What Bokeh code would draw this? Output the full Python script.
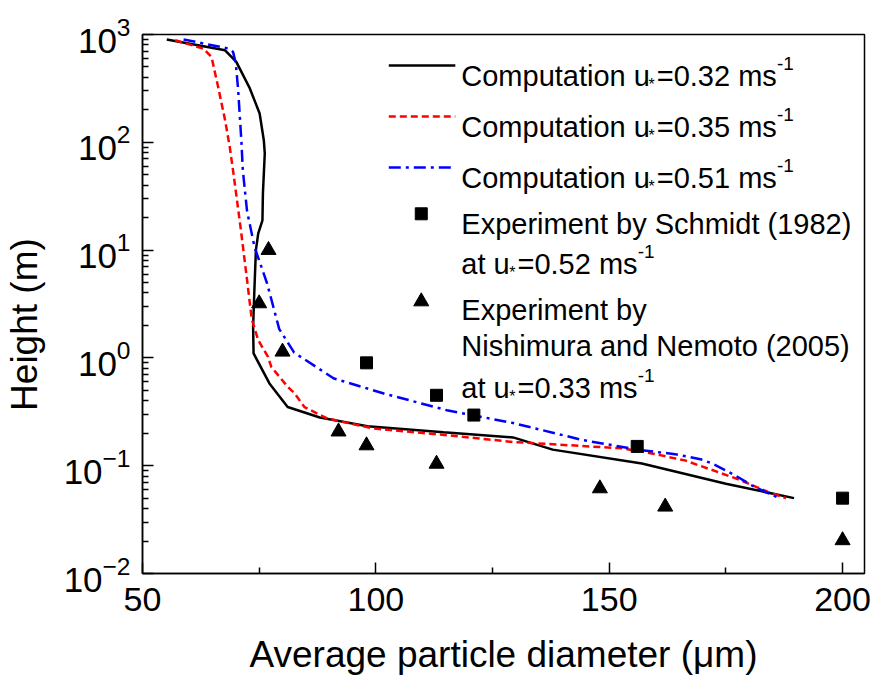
from bokeh.plotting import figure
from bokeh.models import Range1d, LinearScale, Label, FixedTicker, LogTickFormatter
from bokeh.embed import file_html
from bokeh.resources import INLINE

# ---------------- data ----------------
# Computation u*=0.32 m/s (black solid)
x_c032 = [55.2, 67.7, 70.1, 73.0, 75.1, 76.0, 76.2, 75.8, 75.7, 74.8, 74.3, 74.0, 73.7, 73.8,
          77.2, 81.1, 88.0, 98.2, 114.5, 129.4, 137.9, 157.0, 175.0, 189.6]
y_c032 = [900, 713, 557, 316, 185, 104, 79, 33.5, 18.9, 14.3, 10, 4.6, 1.94, 1.1,
          0.58, 0.35, 0.28, 0.232, 0.204, 0.183, 0.141, 0.105, 0.068, 0.050]
# Computation u*=0.35 m/s (red dashed)
x_c035 = [57.0, 63.0, 64.8, 66.2, 67.7, 68.7, 69.4, 71.0, 72.4, 73.4, 74.8, 76.9, 77.6, 81.1,
          82.6, 84.7, 89.6, 99.6, 115.2, 129.4, 137.9, 152.8, 159.1, 166.2, 171.2, 178.3, 184.0, 187.9]
y_c035 = [885, 741, 617, 327, 160, 90, 55, 16.4, 5.3, 2.3, 1.46, 1.02, 0.826, 0.54,
          0.468, 0.35, 0.274, 0.221, 0.192, 0.166, 0.158, 0.145, 0.13, 0.112, 0.094, 0.073, 0.057, 0.050]
# Computation u*=0.51 m/s (blue dash-dot)
x_c051 = [58.8, 68.4, 69.4, 70.0, 70.5, 71.2, 71.5, 72.4, 74.0, 76.7, 79.3, 82.5, 91.0, 101.7,
          115.2, 129.4, 144.3, 157.0, 164.1, 169.8, 172.0, 176.9, 181.1, 186.5]
y_c051 = [900, 741, 690, 538, 304, 100, 55, 23, 10.7, 4.9, 1.85, 1.12, 0.645, 0.468,
          0.327, 0.249, 0.173, 0.139, 0.128, 0.114, 0.105, 0.0817, 0.0636, 0.050]
# Experiment by Schmidt (1982), u*=0.52
x_schmidt = [98, 113, 121, 156, 200]
y_schmidt = [0.90, 0.45, 0.295, 0.151, 0.050]
# Experiment by Nishimura and Nemoto (2005), u*=0.33
x_nishi = [77, 75, 80, 92, 98, 113, 148, 162, 200]
y_nishi = [10.0, 3.2, 1.14, 0.207, 0.154, 0.104, 0.0615, 0.0416, 0.0203]

x_ticks = [50, 100, 150, 200]
x_minor = [75, 125, 175]
y_exponents = [3, 2, 1, 0, -1, -2]

legend_rows = [
    ("Computation u", "=0.32 ms"),
    ("Computation u", "=0.35 ms"),
    ("Computation u", "=0.51 ms"),
]

# ---------------- helpers ----------------
FONT = "Liberation Sans"
W = {' ': 278, '(': 333, ')': 333, '*': 389, '-': 333, '.': 278, '=': 584,
     'C': 722, 'E': 667, 'N': 722, 'S': 667, 'a': 556, 'b': 556, 'c': 500, 'd': 556,
     'e': 556, 'h': 556, 'i': 222, 'm': 833, 'n': 556, 'o': 556, 'p': 556, 'r': 333,
     's': 500, 't': 278, 'u': 556, 'x': 500, 'y': 500}
for d in "0123456789":
    W[d] = 556


def tw(s, size):
    return sum(W.get(c, 556) for c in s) / 1000.0 * size


FL, FT, FR, FB = 137, 34, 864, 573
X0, X1 = 50, 204.7
Y0, Y1 = 0.01, 1000

p = figure(width=874, height=684, x_range=Range1d(X0, X1), y_range=Range1d(Y0, Y1),
           y_axis_type="log", output_backend="svg", toolbar_location=None,
           min_border_left=FL, min_border_right=874 - FR, min_border_top=FT,
           min_border_bottom=684 - FB, background_fill_color="white",
           border_fill_color="white")
p.extra_x_ranges = {"cx": Range1d(FL, FR)}
p.extra_y_ranges = {"cy": Range1d(FB, FT)}
p.extra_x_scales = {"cx": LinearScale()}
p.extra_y_scales = {"cy": LinearScale()}

p.grid.visible = False
p.outline_line_color = "black"
p.outline_line_width = 1.5

for ax in (p.xaxis[0], p.yaxis[0]):
    ax.axis_line_width = 1.5
    ax.axis_line_color = "black"
    ax.major_tick_in = 11
    ax.major_tick_out = 0
    ax.minor_tick_in = 6
    ax.minor_tick_out = 0
    ax.major_tick_line_width = 1.5
    ax.minor_tick_line_width = 1.5
    ax.major_tick_line_color = "black"
    ax.minor_tick_line_color = "black"
    ax.major_label_text_font = FONT
    ax.major_label_text_color = "black"
    ax.axis_label_text_font = FONT
    ax.axis_label_text_font_style = "normal"
    ax.axis_label_text_color = "black"
    ax.axis_label_text_font_size = "37px"

p.xaxis.ticker = FixedTicker(ticks=x_ticks, minor_ticks=x_minor)
p.xaxis.major_label_text_font_size = "34px"
p.xaxis.major_label_standoff = 14
p.xaxis.axis_label = "Average particle diameter (\u03bcm)"
p.xaxis.axis_label_standoff = 20

y_major = [10.0 ** k for k in y_exponents]
y_minor = [m * 10.0 ** k for k in range(-2, 3) for m in range(2, 10)]
p.yaxis.ticker = FixedTicker(ticks=y_major, minor_ticks=y_minor)
p.yaxis.formatter = LogTickFormatter()
p.yaxis.major_label_text_font_size = "35px"
p.yaxis.major_label_standoff = 12
p.yaxis.axis_label = "Height (m)" + "\u00a0" * 4
p.yaxis.axis_label_standoff = 16


def lab(x, y, text, size, align="left", baseline="alphabetic"):
    p.add_layout(Label(x=x, y=y, x_range_name="cx", y_range_name="cy", text=text,
                       text_font=FONT, text_font_size=f"{size}px", text_color="black",
                       text_align=align, text_baseline=baseline))


# ---------------- data marks ----------------
p.line(x_c032, y_c032, line_color="black", line_width=2.5)
p.line(x_c035, y_c035, line_color="#FF0000", line_width=2.5, line_dash="7 4")
p.line(x_c051, y_c051, line_color="#0000FF", line_width=2.5, line_dash="12 5 3 5")
p.scatter(x_schmidt, y_schmidt, marker="square", size=12, color="black")
p.scatter(x_nishi, y_nishi, marker="triangle", size=15, color="black")

# ---------------- legend ----------------
LS = 29
TX = 458
bases = [75, 126, 177]
colors = ["black", "#FF0000", "#0000FF"]
dashes = ["solid", "7 4", "12 5 3 5"]


def ustar_text(x, base, a, b):
    lab(x, base, a, LS)
    x2 = x + tw(a, LS)
    lab(x2, base + 9, "*", 16)
    x3 = x2 + tw("*", 16) + 2
    lab(x3, base, b, LS)
    x4 = x3 + tw(b, LS) + 1
    lab(x4, base - 12, "-1", 19)


for (a, b), base, c, d in zip(legend_rows, bases, colors, dashes):
    p.line([385, 452], [base - 10, base - 10], x_range_name="cx", y_range_name="cy",
           line_color=c, line_width=2.5, line_dash=d)
    ustar_text(TX, base, a, b)

p.scatter([417.7], [213.3], x_range_name="cx", y_range_name="cy", marker="square",
          size=12, color="black")
lab(TX, 223, "Experiment by Schmidt (1982)", LS)
ustar_text(TX, 263, "at u", "=0.52 ms")

p.scatter([417.7], [301], x_range_name="cx", y_range_name="cy", marker="triangle",
          size=15, color="black")
lab(TX, 309, "Experiment by", LS)
lab(TX, 345, "Nishimura and Nemoto (2005)", LS)
ustar_text(TX, 387, "at u", "=0.33 ms")

open("out.html", "w").write(file_html(p, INLINE))
